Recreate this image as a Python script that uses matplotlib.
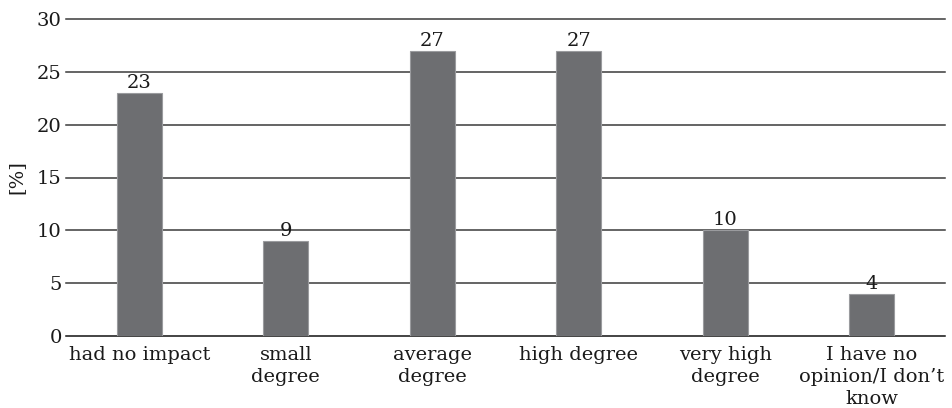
import matplotlib
matplotlib.use("Agg")
import matplotlib.pyplot as plt

categories = ["had no impact", "small\ndegree", "average\ndegree", "high degree",
              "very high\ndegree", "I have no\nopinion/I don\u2019t\nknow"]
values = [23, 9, 27, 27, 10, 4]
yticks = [0, 5, 10, 15, 20, 25, 30]

plt.rcParams["font.family"] = ["DejaVu Serif"]

fig = plt.figure(figsize=(9.52, 4.08), dpi=100)
ax = fig.add_axes([66 / 952, 1 - 336 / 408, (945 - 66) / 952, (336 - 19) / 408])

x = list(range(len(categories)))
ax.bar(x, values, width=0.31, color="#6d6e71", edgecolor="#9a9b9e",
       linewidth=0.8, zorder=3)

for yt in yticks:
    ax.axhline(yt, color="#111111" if yt == 0 else "#3a3a3a", linewidth=1.1,
               zorder=1, clip_on=False)

for xi, v in zip(x, values):
    ax.text(xi, v + 0.1, str(v), ha="center", va="bottom", fontsize=14, color="#1a1a1a")

ax.set_xlim(-0.5, len(categories) - 0.5)
ax.set_ylim(0, 30)
ax.set_yticks(yticks)
ax.set_yticklabels([str(t) for t in yticks], fontsize=14, color="#1a1a1a")
ax.set_xticks(x)
ax.set_xticklabels(categories, fontsize=14, color="#1a1a1a", linespacing=1.28)
ax.tick_params(axis="both", length=0)
ax.tick_params(axis="y", pad=3)
ax.tick_params(axis="x", pad=7)
for s in ax.spines.values():
    s.set_visible(False)

ax.set_ylabel("[%]", fontsize=14, color="#1a1a1a", labelpad=8)

fig.savefig("out.png", dpi=100)
